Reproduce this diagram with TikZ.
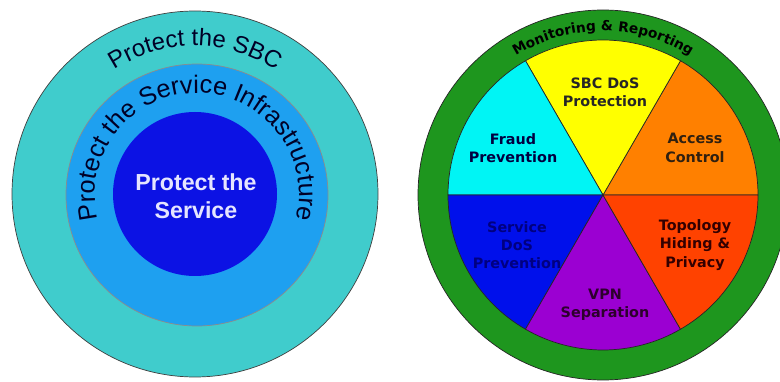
\documentclass[tikz,border=0pt]{standalone}
\usepackage{fontspec}
\setmainfont{Liberation Sans}
\newfontfamily\heavyfont{DejaVu Sans}
\usetikzlibrary{decorations.text}

\definecolor{sbcring}{RGB}{64,204,204}
\definecolor{infraring}{RGB}{30,160,240}
\definecolor{servicecore}{RGB}{12,18,228}
\definecolor{monitorgreen}{RGB}{30,150,30}
\definecolor{dosyellow}{RGB}{255,255,0}
\definecolor{accessorange}{RGB}{255,128,0}
\definecolor{topored}{RGB}{255,66,0}
\definecolor{vpnpurple}{RGB}{155,0,210}
\definecolor{svcblue}{RGB}{0,16,235}
\definecolor{fraudcyan}{RGB}{0,245,245}

\begin{document}
\begin{tikzpicture}[
      ring/.style={draw=black!75, line width=0.5pt},
      slice/.style={draw=black!85, line width=0.5pt},
      slicelabel/.style={font=\heavyfont\bfseries\fontsize{10.2}{13}\selectfont, align=center},
      arctext/.style={decorate, decoration={text along path, text align=center, text={#1}}}]
    \path[fill=white, use as bounding box] (0,0) rectangle (19.5,9.55);

    % left: three nested rings
    \coordinate (lc) at (4.875,4.70);
    \coordinate (mc) at (4.925,4.675);
    \filldraw[ring, fill=sbcring] (lc) circle[radius=4.575];
    \filldraw[ring, draw=black!45, fill=infraring] (mc) circle[radius=3.275];
    \fill[servicecore] (lc) circle[radius=2.05];
    \node[font=\bfseries\fontsize{16.5}{20}\selectfont, text=blue!10, align=center] (core) at (4.9,4.65) {Protect the\\Service};
    \path[arctext={|\color{blue!15!black}\fontsize{17}{20}\selectfont|Protect the SBC}]
      ([shift={(160:3.7)}]lc) arc[start angle=160, end angle=20, radius=3.7];
    \path[arctext={|\color{blue!15!black}\fontsize{18}{20}\selectfont|Protect the Service Infrastructure}]
      ([shift={(215:2.55)}]mc) arc[start angle=215, end angle=-35, radius=2.55];

    % right: pie inside the monitoring ring
    \coordinate (rc) at (15.075,4.675);
    \filldraw[slice, fill=monitorgreen] (rc) circle[radius=4.625];
    \foreach \a/\col in {0/accessorange, 60/dosyellow, 120/fraudcyan, 180/svcblue, 240/vpnpurple, 300/topored}
      \filldraw[slice, fill=\col] (rc) -- ++(\a:3.875) arc[start angle=\a, end angle=\a+60, radius=3.875] -- cycle;
    \path[arctext={|\heavyfont\bfseries\fontsize{9.8}{11}\selectfont|Monitoring {\&} Reporting}]
      ([shift={(150:4.1)}]rc) arc[start angle=150, end angle=30, radius=4.1];

    \node[slicelabel, text=black!85] (dos) at (15.125,7.25) {SBC DoS\\Protection};
    \node[slicelabel, text=blue!25!black] (fraud) at (12.825,5.85) {Fraud\\Prevention};
    \node[slicelabel, text=brown!25!black] (access) at (17.375,5.85) {Access\\Control};
    \node[slicelabel, text=blue!50!black] (svcdos) at (12.925,3.425) {Service\\DoS\\Prevention};
    \node[slicelabel, text=red!20!black] (topo) at (17.375,3.425) {Topology\\Hiding \&\\Privacy};
    \node[slicelabel, text=violet!35!black] (vpn) at (15.125,1.925) {VPN\\Separation};
  \end{tikzpicture}
\end{document}
